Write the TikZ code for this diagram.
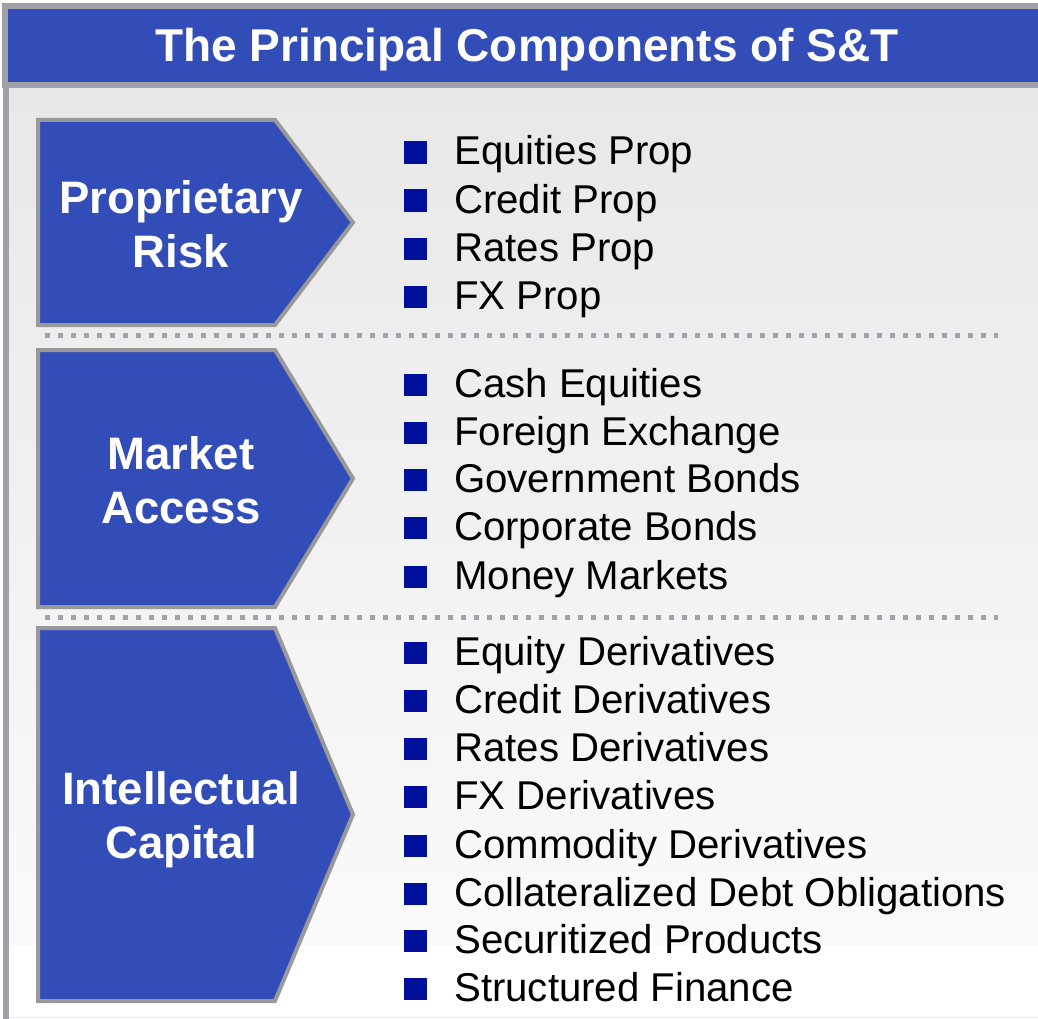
\documentclass[tikz,border=0pt]{standalone}
\usepackage{fontspec}
\setmainfont{Liberation Sans}
\definecolor{barblue}{HTML}{334DB8}
\definecolor{framegray}{HTML}{A0A0A8}
\definecolor{chevgray}{HTML}{999999}
\definecolor{bulletblue}{HTML}{00109A}
\definecolor{dotgray}{HTML}{A2A2AC}
\definecolor{paneltop}{HTML}{E8E8E8}
\definecolor{panelbot}{HTML}{FAFAFA}
\begin{document}
\begin{tikzpicture}[x=1pt,y=-1pt,
  chev/.style={fill=barblue, draw=chevgray, line width=4pt, line join=miter},
  chevlabel/.style={text=white, inner sep=0, align=center, anchor=base,
    font=\fontsize{45.5}{54}\selectfont\bfseries},
  itemtext/.style={anchor=base west, inner sep=0, text=black,
    font=\fontsize{40.2}{48}\selectfont},
  bulletsq/.style={fill=bulletblue},
  dotrule/.style={draw=dotgray, line width=5pt, dash pattern=on 5pt off 8pt}]
\useasboundingbox (0,0) rectangle (1038,1019);

% panel background with its soft vertical gradient
\shade[top color=paneltop, bottom color=panelbot] (9,88) rectangle (1038,946);
\fill[white] (9,946) rectangle (1038,1017);
\draw[line width=1pt, draw=black!7] (9,1017) -- (1038,1017);
\draw[line width=6pt, draw=framegray] (6,85) -- (6,1019);

% title bar
\draw[fill=barblue, draw=framegray, line width=6pt] (5,6) rectangle (1046,85);
\node[anchor=base, inner sep=0, text=white, font=\fontsize{46}{54}\selectfont\bfseries]
  (title) at (527,62) {The Principal Components of S\&T};

% chevrons
\draw[chev] (38,120) -- (275,120) -- (353,222.5) -- (275,325) -- (38,325) -- cycle;
\draw[chev] (38,350) -- (275,350) -- (353,478.5) -- (275,607) -- (38,607) -- cycle;
\draw[chev] (38,628) -- (275,628) -- (353,814.5) -- (275,1001) -- (38,1001) -- cycle;

\node[chevlabel] (prop) at (181,267) {Proprietary\\Risk};
\node[chevlabel] (mkt) at (181,523) {Market\\Access};
\node[chevlabel] (intel) at (181,858) {Intellectual\\Capital};

% dotted separators
\draw[dotrule] (45,335) -- (998,335);
\draw[dotrule] (45,617) -- (998,617);

% bullet lists
\foreach \b/\t [count=\i] in {165/Equities Prop, 213/Credit Prop, 261/Rates Prop, 309/FX Prop,
  397/Cash Equities, 445/Foreign Exchange, 492/Government Bonds, 540/Corporate Bonds, 589/Money Markets,
  665/Equity Derivatives, 713/Credit Derivatives, 761/Rates Derivatives, 809/FX Derivatives,
  858/Commodity Derivatives, 906/Collateralized Debt Obligations, 953/Securitized Products,
  1001/Structured Finance}{
  \fill[bulletsq] (404,\b-23.5) rectangle (427,\b-1);
  \node[itemtext] (item\i) at (454,\b) {\t};
}
\end{tikzpicture}
\end{document}
